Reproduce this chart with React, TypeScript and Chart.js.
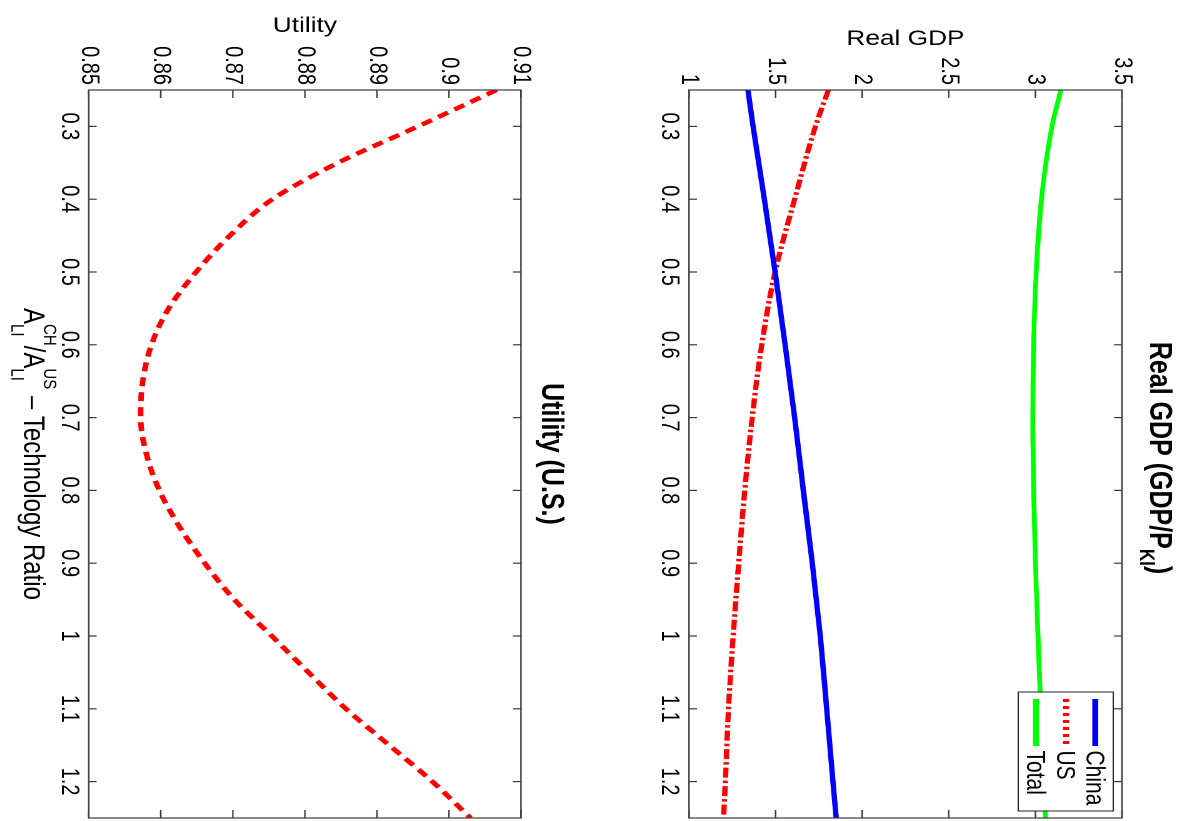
import React, { useEffect, useRef } from "react";
import { Chart, registerables } from "chart.js";

Chart.register(...registerables);

// ---------------- data ----------------
const RATIO = [0.25, 0.3, 0.4, 0.5, 0.6, 0.7, 0.8, 0.9, 1.0, 1.1, 1.2, 1.25];
const GDP_CHINA = [1.34, 1.37, 1.435, 1.497, 1.555, 1.61, 1.66, 1.712, 1.758, 1.795, 1.831, 1.85];
const GDP_US = [1.805, 1.73, 1.61, 1.497, 1.42, 1.365, 1.322, 1.287, 1.255, 1.228, 1.21, 1.2];
const GDP_TOTAL = [3.147, 3.096, 3.035, 3.005, 2.99, 2.985, 2.99, 3.0, 3.015, 3.031, 3.045, 3.059];

const UTIL_RATIO = [0.25, 0.3, 0.35, 0.4, 0.45, 0.5, 0.55, 0.6, 0.65, 0.7, 0.75, 0.8, 0.85, 0.9, 0.95, 1.0, 1.05, 1.1, 1.15, 1.2, 1.25];
const UTIL_US = [0.9066, 0.8957, 0.8846, 0.8755, 0.8696, 0.8649, 0.8611, 0.8587, 0.8575, 0.8572, 0.858, 0.8598, 0.8626, 0.8661, 0.8702, 0.8754, 0.8805, 0.8857, 0.8917, 0.8977, 0.903];

const SERIES_NAMES = ["China", "US", "Total"];

const X_TICKS = [0.3, 0.4, 0.5, 0.6, 0.7, 0.8, 0.9, 1.0, 1.1, 1.2];
const X_TICK_LABELS = ["0.3", "0.4", "0.5", "0.6", "0.7", "0.8", "0.9", "1", "1.1", "1.2"];
const GDP_TICKS = [1, 1.5, 2, 2.5, 3, 3.5];
const GDP_TICK_LABELS = ["1", "1.5", "2", "2.5", "3", "3.5"];
const UTIL_TICKS = [0.85, 0.86, 0.87, 0.88, 0.89, 0.9, 0.91];
const UTIL_TICK_LABELS = ["0.85", "0.86", "0.87", "0.88", "0.89", "0.9", "0.91"];

// ---------------- layout / style ----------------
const FONT = '"Liberation Sans", Arial, Helvetica, sans-serif';
const S = 1.25; // vertical stretch of the (unrotated) figure
const FRAME_W = 821;
const FRAME_H = 954;
const GDP_H = 480;
const UTIL_TOP = 480;
const UTIL_H = 474;
const AXIS_COLOR = "#3a3a3a";
const TICK_ALONG_W = 8 / S;
const TICK_ALONG_U = 8;

type Seg = { t?: string; size?: number; bold?: boolean; dy?: number; stack?: Seg[] };

function fontOf(s: Seg) {
  return `${s.bold ? "bold " : ""}${s.size}px ${FONT}`;
}

function drawRich(ctx: CanvasRenderingContext2D, cx: number, baseY: number, segs: Seg[]) {
  const widths = segs.map((seg) => {
    const parts = seg.stack || [seg];
    return Math.max(
      ...parts.map((p) => {
        ctx.font = fontOf(p);
        return ctx.measureText(p.t || "").width;
      })
    );
  });
  const total = widths.reduce((a, b) => a + b, 0);
  let x = cx - total / 2;
  ctx.textAlign = "left";
  ctx.textBaseline = "alphabetic";
  segs.forEach((seg, i) => {
    const parts = seg.stack || [seg];
    parts.forEach((p) => {
      ctx.font = fontOf(p);
      ctx.fillText(p.t || "", x, baseY + (p.dy || 0));
    });
    x += widths[i];
  });
}

const figurePlugin = {
  id: "figure",
  afterDraw(chart: any, _args: any, opts: any) {
    const ctx: CanvasRenderingContext2D = chart.ctx;
    const { left, right, top, bottom } = chart.chartArea;
    const xs = chart.scales.x;
    const ys = chart.scales.y;
    ctx.save();
    // inward ticks on all four sides
    ctx.strokeStyle = AXIS_COLOR;
    ctx.lineWidth = 1.2;
    ctx.beginPath();
    for (const t of xs.ticks) {
      const p = xs.getPixelForValue(t.value);
      ctx.moveTo(p, bottom);
      ctx.lineTo(p, bottom - TICK_ALONG_W);
      ctx.moveTo(p, top);
      ctx.lineTo(p, top + TICK_ALONG_W);
    }
    for (const t of ys.ticks) {
      const p = ys.getPixelForValue(t.value);
      ctx.moveTo(left, p);
      ctx.lineTo(left + TICK_ALONG_U, p);
      ctx.moveTo(right, p);
      ctx.lineTo(right - TICK_ALONG_U, p);
    }
    ctx.stroke();
    ctx.strokeRect(left, top, right - left, bottom - top);

    ctx.fillStyle = "#000";
    // title
    if (opts.title) drawRich(ctx, opts.titleX, opts.titleY, opts.title);
    // y label
    if (opts.yLabel) {
      ctx.save();
      ctx.translate(opts.yLabelX, (top + bottom) / 2);
      ctx.rotate(-Math.PI / 2);
      ctx.font = `${opts.yLabelSize}px ${FONT}`;
      ctx.textAlign = "center";
      ctx.textBaseline = "alphabetic";
      ctx.fillText(opts.yLabel, 0, 0);
      ctx.restore();
    }
    // x label
    if (opts.xLabel) drawRich(ctx, (left + right) / 2, opts.xLabelY, opts.xLabel);

    // legend
    if (opts.legend) {
      const lg = opts.legend;
      ctx.fillStyle = "#fff";
      ctx.fillRect(lg.x0, lg.y0, lg.x1 - lg.x0, lg.y1 - lg.y0);
      ctx.strokeStyle = "#222";
      ctx.lineWidth = 1;
      ctx.strokeRect(lg.x0, lg.y0, lg.x1 - lg.x0, lg.y1 - lg.y0);
      chart.data.datasets.forEach((ds: any, i: number) => {
        const y = lg.rows[i];
        ctx.save();
        ctx.strokeStyle = ds.borderColor;
        ctx.lineWidth = lg.lineWidth;
        ctx.lineCap = "butt";
        ctx.setLineDash(lg.dashes[i] || []);
        ctx.beginPath();
        ctx.moveTo(lg.lineX0, y);
        ctx.lineTo(lg.lineX1, y);
        ctx.stroke();
        ctx.restore();
        ctx.fillStyle = "#000";
        ctx.font = `${lg.fontSize}px ${FONT}`;
        ctx.textAlign = "left";
        ctx.textBaseline = "alphabetic";
        ctx.fillText(ds.label, lg.textX, y + lg.textDy);
      });
    }
    ctx.restore();
  },
};

function xAxis(axisHeight: number) {
  return {
    type: "linear",
    min: 0.25,
    max: 1.25,
    afterBuildTicks: (s: any) => {
      s.ticks = X_TICKS.map((value) => ({ value }));
    },
    afterFit: (s: any) => {
      s.height = axisHeight;
    },
    ticks: {
      autoSkip: false,
      maxRotation: 0,
      minRotation: 0,
      padding: 4,
      color: "#000",
      font: { family: FONT, size: 20 },
      callback: (_v: any, i: number) => X_TICK_LABELS[i],
    },
    grid: { display: false, drawTicks: false },
    border: { display: false },
  };
}

function yAxis(min: number, max: number, ticks: number[], labels: string[]) {
  return {
    type: "linear",
    min,
    max,
    afterBuildTicks: (s: any) => {
      s.ticks = ticks.map((value) => ({ value }));
    },
    afterFit: (s: any) => {
      s.width = 90;
    },
    ticks: {
      autoSkip: false,
      padding: 5,
      color: "#000",
      font: { family: FONT, size: 20 },
      callback: (_v: any, i: number) => labels[i],
    },
    grid: { display: false, drawTicks: false },
    border: { display: false },
  };
}

function pts(xs: number[], ys: number[]) {
  return xs.map((x, i) => ({ x, y: ys[i] }));
}

export default function App() {
  const gdpRef = useRef<HTMLCanvasElement>(null);
  const utilRef = useRef<HTMLCanvasElement>(null);

  useEffect(() => {
    const common = {
      animation: false,
      responsive: false,
      devicePixelRatio: 2,
      events: [],
    };

    const gdp = new Chart(gdpRef.current as HTMLCanvasElement, {
      type: "line",
      data: {
        datasets: [
          {
            label: SERIES_NAMES[0],
            data: pts(RATIO, GDP_CHINA),
            borderColor: "#0000ff",
            borderWidth: 4.3,
            pointRadius: 0,
            cubicInterpolationMode: "monotone",
          },
          {
            label: SERIES_NAMES[1],
            data: pts(RATIO, GDP_US),
            borderColor: "#ff0000",
            borderWidth: 4.2,
            borderDash: [10, 3, 2.5, 3],
            borderCapStyle: "butt",
            pointRadius: 0,
            cubicInterpolationMode: "monotone",
          },
          {
            label: SERIES_NAMES[2],
            data: pts(RATIO, GDP_TOTAL),
            borderColor: "#00ff00",
            borderWidth: 3.8,
            pointRadius: 0,
            cubicInterpolationMode: "monotone",
          },
        ],
      },
      options: {
        ...common,
        layout: { padding: { top: 56, right: 3, left: 0, bottom: 0 } },
        scales: {
          x: xAxis(GDP_H - 402.4),
          y: yAxis(1, 3.5, GDP_TICKS, GDP_TICK_LABELS),
        },
        plugins: {
          legend: { display: false },
          title: { display: false },
          tooltip: { enabled: false },
          figure: {
            title: [
              { t: "Real GDP (GDP/P", size: 25, bold: true },
              { t: "Kl", size: 17, bold: true, dy: 8 },
              { t: ")", size: 25, bold: true },
            ],
            titleX: 458,
            titleY: 33.6,
            yLabel: "Real GDP",
            yLabelX: 45,
            yLabelSize: 21,
            legend: {
              x0: 692,
              x1: 811,
              y0: 63,
              y1: 139,
              rows: [77.4, 100.8, 124.8],
              lineX0: 699,
              lineX1: 746,
              lineWidth: 4.8,
              dashes: [[], [3, 4], []],
              textX: 750.5,
              textDy: 7,
              fontSize: 21,
            },
          },
        },
      } as any,
      plugins: [figurePlugin as any],
    } as any);

    const util = new Chart(utilRef.current as HTMLCanvasElement, {
      type: "line",
      data: {
        datasets: [
          {
            label: "US",
            data: pts(UTIL_RATIO, UTIL_US),
            borderColor: "#ff0000",
            borderWidth: 4.4,
            borderDash: [9, 6],
            borderCapStyle: "butt",
            pointRadius: 0,
            cubicInterpolationMode: "monotone",
          },
        ],
      },
      options: {
        ...common,
        layout: { padding: { top: 56.8, right: 3, left: 0, bottom: 0 } },
        scales: {
          x: xAxis(UTIL_H - 402.6),
          y: yAxis(0.85, 0.91, UTIL_TICKS, UTIL_TICK_LABELS),
        },
        plugins: {
          legend: { display: false },
          title: { display: false },
          tooltip: { enabled: false },
          figure: {
            title: [{ t: "Utility (U.S.)", size: 25, bold: true }],
            titleX: 454,
            titleY: 40.2,
            yLabel: "Utility",
            yLabelX: 32,
            yLabelSize: 21,
            xLabel: [
              { t: "A", size: 24 },
              { stack: [{ t: "CH", size: 15, dy: -16 }, { t: "LI", size: 15, dy: 10 }] },
              { t: "/A", size: 24 },
              { stack: [{ t: "US", size: 15, dy: -16 }, { t: "LI", size: 15, dy: 10 }] },
              { t: " \u2013 Technology Ratio", size: 24 },
            ],
            xLabelY: 454.5,
          },
        },
      } as any,
      plugins: [figurePlugin as any],
    } as any);

    return () => {
      gdp.destroy();
      util.destroy();
    };
  }, []);

  return (
    <div
      style={{
        position: "fixed",
        left: 0,
        top: 0,
        width: 1192,
        height: 821,
        overflow: "hidden",
        background: "#fff",
      }}
    >
      <div
        style={{
          position: "absolute",
          left: 0,
          top: 0,
          width: FRAME_W,
          height: FRAME_H,
          transformOrigin: "0 0",
          transform: `translate(1192px, 0px) rotate(90deg) scale(1, ${S})`,
        }}
      >
        <canvas
          ref={gdpRef}
          width={FRAME_W}
          height={GDP_H}
          style={{ position: "absolute", left: 0, top: 0, width: FRAME_W, height: GDP_H }}
        />
        <canvas
          ref={utilRef}
          width={FRAME_W}
          height={UTIL_H}
          style={{ position: "absolute", left: 0, top: UTIL_TOP, width: FRAME_W, height: UTIL_H }}
        />
      </div>
    </div>
  );
}
